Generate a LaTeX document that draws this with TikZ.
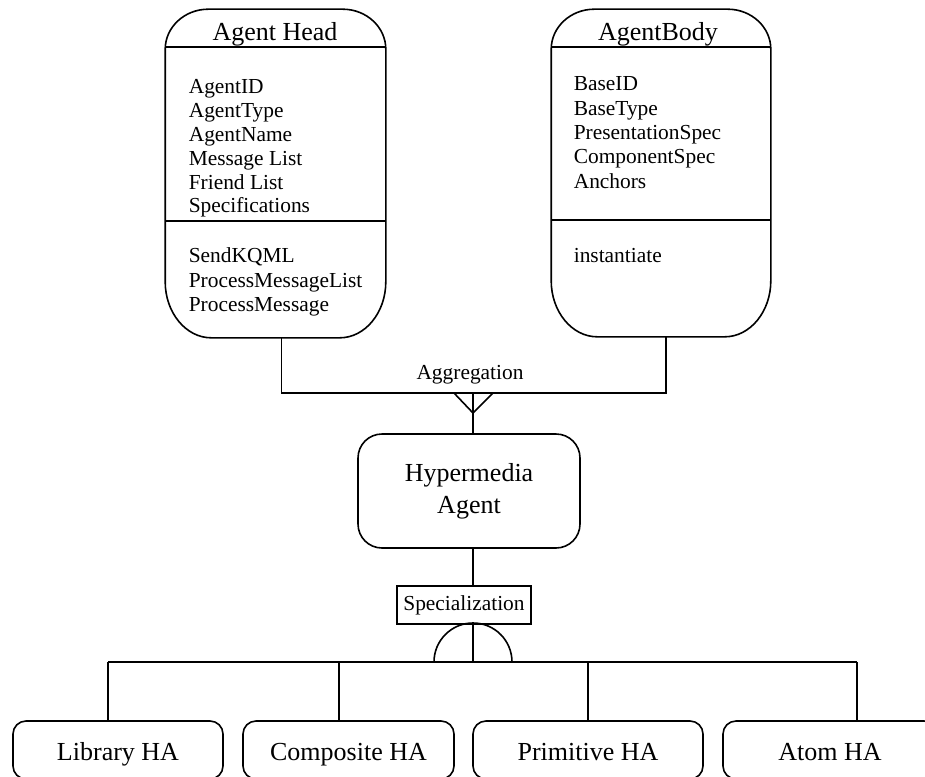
\documentclass[tikz,border=0pt]{standalone}
\usepackage{fontspec}
\setmainfont{Liberation Serif}
\usetikzlibrary{calc}

% Outline of a class box: node name, top corner radii (x,y), bottom corner radii (x,y)
\newcommand\classoutline[5]{%
  \draw ($(#1.north west)+(0,#3)$)
    .. controls ($(#1.north west)+(0,0.45*#3)$) and ($(#1.north west)+(0.45*#2,0)$) .. ($(#1.north west)+(#2,0)$)
    -- ($(#1.north east)+(-#2,0)$)
    .. controls ($(#1.north east)+(-0.45*#2,0)$) and ($(#1.north east)+(0,0.45*#3)$) .. ($(#1.north east)+(0,#3)$)
    -- ($(#1.south east)+(0,-#5)$)
    .. controls ($(#1.south east)+(0,-0.45*#5)$) and ($(#1.south east)+(-0.45*#4,0)$) .. ($(#1.south east)+(-#4,0)$)
    -- ($(#1.south west)+(#4,0)$)
    .. controls ($(#1.south west)+(0.45*#4,0)$) and ($(#1.south west)+(0,-0.45*#5)$) .. ($(#1.south west)+(0,-#5)$)
    -- cycle;}

\tikzset{
  bigtext/.style={font=\fontsize{26}{32}\selectfont},
  smalltext/.style={font=\fontsize{21.4}{24}\selectfont},
  attr/.style={smalltext, anchor=base west, inner sep=0pt},
  title/.style={bigtext, anchor=base, inner sep=0pt},
  frame/.style={draw=none, inner sep=0pt, rectangle},
  leaf/.style={bigtext, draw, rounded corners=13pt, minimum width=#1, minimum height=58pt,
               text height=24pt, text depth=4pt, inner sep=0pt},
}

\begin{document}
\begin{tikzpicture}[x=1pt, y=-1pt, line width=1.6pt]
\path[use as bounding box, clip] (0,0) rectangle (925,776);

% class boxes
\node[frame, minimum width=219pt, minimum height=327pt] (head) at (275.5,173.5) {};
\node[frame, minimum width=218pt, minimum height=326pt] (body) at (661,173) {};
\classoutline{head}{43}{40}{46}{56}
\classoutline{body}{43}{40}{46}{56}

% compartments
\draw ($(head.north west)+(0,38)$) -- ($(head.north east)+(0,38)$);
\draw ($(head.north west)+(0,212)$) -- ($(head.north east)+(0,212)$);
\draw ($(body.north west)+(0,38)$) -- ($(body.north east)+(0,38)$);
\draw ($(body.north west)+(0,211)$) -- ($(body.north east)+(0,211)$);

\node[title] (headtitle) at (275,41) {Agent Head};
\node[title] (bodytitle) at (658,41) {AgentBody};

\foreach \t [count=\i] in {AgentID, AgentType, AgentName, Message List, Friend List, Specifications}
  \node[attr] (ha\i) at (188,{70+\i*23.8}) {\t};
\foreach \t [count=\i] in {SendKQML, ProcessMessageList, ProcessMessage}
  \node[attr] (hm\i) at (188,{238+\i*24.5}) {\t};
\foreach \t [count=\i] in {BaseID, BaseType, PresentationSpec, ComponentSpec, Anchors}
  \node[attr] (ba\i) at (573,{66.6+\i*24.3}) {\t};
\node[attr] (bm1) at (573,262) {instantiate};

% aggregation
\coordinate (aggjoin) at (473,393);
\draw ($(head.south)+(6,0)$) |- (aggjoin) -| ($(body.south)+(5,0)$);
\node[smalltext, anchor=base, inner sep=0pt] (agglabel) at (470,379) {Aggregation};

\node[bigtext, draw, rounded corners=24pt, minimum width=222pt, minimum height=114pt,
      align=center, inner sep=0pt] (hma) at (469,491) {Hypermedia\\Agent};

\coordinate (footL) at (454,393);
\coordinate (footR) at (493,393);
\coordinate (footM) at (473,413);
\draw (footL) -- (footM) -- (footR);
\draw (aggjoin) -- (aggjoin |- hma.north);

% specialization
\node[smalltext, draw, minimum width=134pt, minimum height=38pt, inner sep=0pt] (spec) at (464,605) {Specialization};
\coordinate (branch) at (473,662);
\draw (aggjoin |- hma.south) -- (aggjoin |- spec.north);
\draw (aggjoin |- spec.south) -- (branch);
\draw ($(branch)+(-39,0)$) arc[start angle=180, end angle=360, radius=39];

\node[leaf=210pt] (lib) at (118,750) {Library HA};
\node[leaf=211pt] (comp) at (348.5,750) {Composite HA};
\node[leaf=230pt] (prim) at (588,750) {Primitive HA};
\node[leaf=214pt] (atom) at (830,750) {Atom HA};

\coordinate (d1) at (108,662);
\coordinate (d2) at (339,662);
\coordinate (d3) at (588,662);
\coordinate (d4) at (857,662);
\draw (d1) -- (d4);
\draw (d1) -- (d1 |- lib.north);
\draw (d2) -- (d2 |- comp.north);
\draw (d3) -- (d3 |- prim.north);
\draw (d4) -- (d4 |- atom.north);
\end{tikzpicture}
\end{document}
